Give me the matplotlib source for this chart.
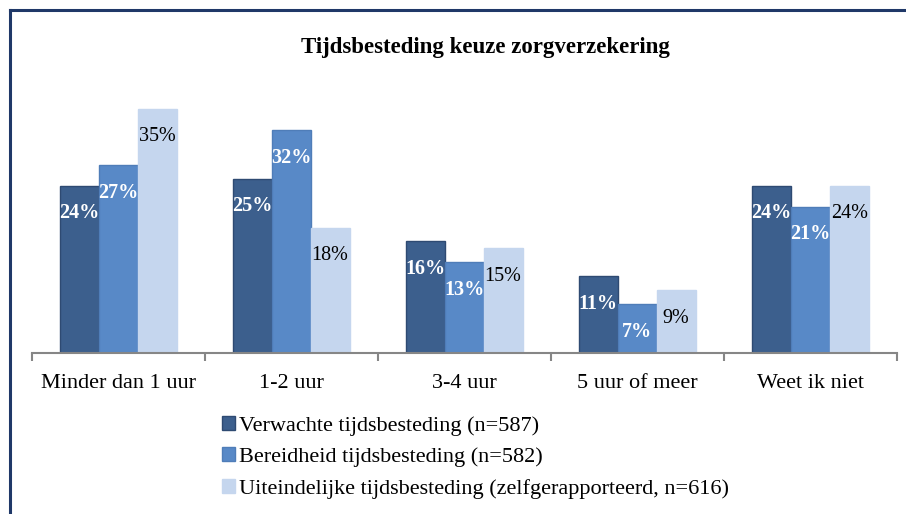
import matplotlib
matplotlib.use("Agg")
import matplotlib.pyplot as plt
from matplotlib.lines import Line2D
import numpy as np

categories = ["Minder dan 1 uur", "1-2 uur", "3-4 uur", "5 uur of meer", "Weet ik niet"]
verwacht = [24, 25, 16, 11, 24]
bereid = [27, 32, 13, 7, 21]
uiteindelijk = [35, 18, 15, 9, 24]
series_names = ["Verwachte tijdsbesteding (n=587)",
                "Bereidheid tijdsbesteding (n=582)",
                "Uiteindelijke tijdsbesteding (zelfgerapporteerd, n=616)"]
title = "Tijdsbesteding keuze zorgverzekering"

colors = ["#3C5F8D", "#5889C7", "#C5D6EE"]
edges = ["#2E4A72", "#4F7DB8", "#C5D6EE"]
label_colors = ["white", "white", "black"]
label_weights = ["bold", "bold", "normal"]

plt.rcParams['font.family'] = ['Liberation Serif', 'DejaVu Serif']

fig = plt.figure(figsize=(9.06, 5.14), dpi=100)
ax = fig.add_axes([31.7/906, 1-353/514, 865/906, 251/514])

x = np.arange(len(categories))
w = 0.225
series = [verwacht, bereid, uiteindelijk]
for i, (vals, name) in enumerate(zip(series, series_names)):
    pos = x + (i - 1) * w
    ax.bar(pos, vals, width=w, color=colors[i], edgecolor=edges[i],
           linewidth=1.0, label=name, zorder=2)
    for xp, v in zip(pos, vals):
        ax.annotate(f"{v}%", xy=(xp, v), xytext=(0, -20), textcoords="offset points",
                    ha="center", va="center", fontsize=14.5, color=label_colors[i],
                    fontweight=label_weights[i], zorder=3)

ax.set_xlim(-0.5, len(categories) - 0.5)
ax.set_ylim(0, 36)
for s in ["top", "right", "left"]:
    ax.spines[s].set_visible(False)
ax.spines["bottom"].set_color("#868686")
ax.spines["bottom"].set_linewidth(1.5)
ax.set_yticks([])
ax.set_xticks(x)
ax.set_xticklabels(categories, fontsize=16)
ax.tick_params(axis="x", which="major", length=0, pad=15)
ax.set_xticks(np.arange(-0.5, len(categories)), minor=True)
ax.tick_params(axis="x", which="minor", length=6, width=1.5, color="#868686")

fig.text(485/906, 1-48/514, title, ha="center", va="center", fontsize=16.5, fontweight="bold")

fig.legend(loc="upper left", bbox_to_anchor=(213/906, 1-407/514), frameon=False,
           fontsize=16, handlelength=0.6, handleheight=0.6, handletextpad=0.15,
           labelspacing=0.52, borderaxespad=0)

# outer frame (left and top)
fig.add_artist(Line2D([9.5/906, 9.5/906], [0, 1-10/514], transform=fig.transFigure,
                      color="#1F3868", linewidth=2.2))
fig.add_artist(Line2D([9.5/906, 1], [1-10.3/514, 1-10.3/514], transform=fig.transFigure,
                      color="#1F3868", linewidth=2.2))

fig.savefig("out.png", dpi=100)
